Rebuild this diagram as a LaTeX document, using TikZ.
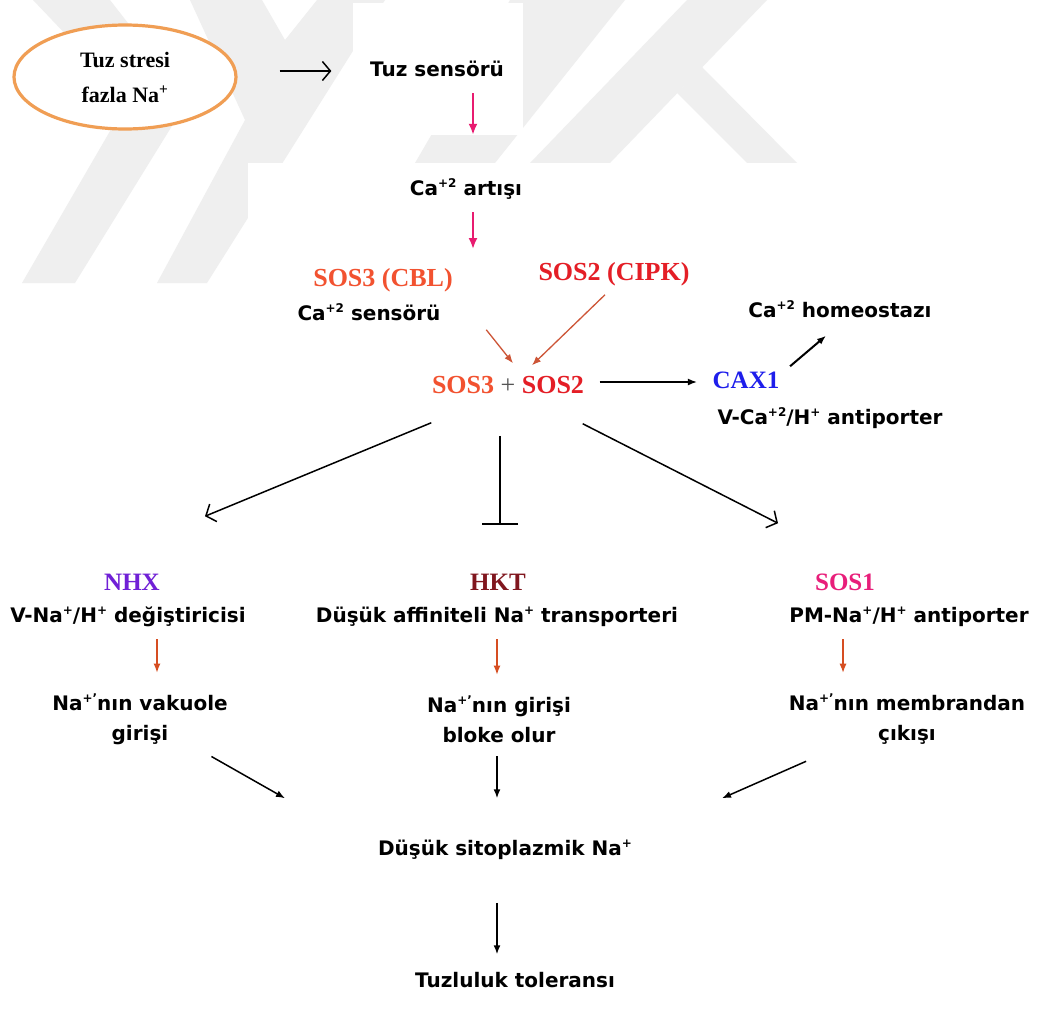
\documentclass[tikz,border=0pt]{standalone}
\usepackage{fontspec}
\setmainfont{DejaVu Sans}
\newfontfamily\serifbf{Liberation Serif}
\usetikzlibrary{arrows,arrows.meta,shapes.geometric}

\definecolor{ovalorange}{RGB}{240,158,84}
\definecolor{signalpink}{RGB}{232,28,112}
\definecolor{sosorange}{RGB}{242,82,48}
\definecolor{sosred}{RGB}{228,30,38}
\definecolor{plusgray}{RGB}{85,85,85}
\definecolor{caxblue}{RGB}{30,30,235}
\definecolor{nhxpurple}{RGB}{112,32,214}
\definecolor{hktred}{RGB}{128,22,30}
\definecolor{sosmagenta}{RGB}{232,30,122}
\definecolor{stepbrown}{RGB}{214,78,34}
\definecolor{joinred}{RGB}{205,85,55}
\definecolor{wmgray}{RGB}{239,239,239}

% small raised charge sign
\newcommand{\ionsup}[1]{\raisebox{0.42em}{\fontsize{12}{12}\selectfont #1}}

\begin{document}
\begin{tikzpicture}[x=1pt, y=-1pt, % one unit per pixel, y downwards
	> = {Latex[length=9pt,width=7pt]}, % arrow head style
	line width=1.5pt,
	every node/.style={inner sep=0pt},
	txt/.style={font=\fontsize{20}{30}\selectfont\bfseries, text height=15pt, text depth=4pt},
	txttwo/.style={font=\fontsize{20}{30}\selectfont\bfseries, align=center},
	gene/.style={font=\fontsize{26}{30}\selectfont\serifbf\bfseries, text height=18pt, text depth=5pt},
	sig/.style={-{Latex[length=11pt,width=9pt]}, signalpink, line width=2pt},
	act/.style={->, stepbrown, line width=1.2pt},
	joinarr/.style={->, joinred, line width=1.3pt},
	blk/.style={->},
	opn/.style={-{Straight Barb[length=8pt,width=19pt]}},
	blocked/.style={-{Bar[width=36pt,line width=2.6pt]}},
	cover/.style={fill=white, draw=none},
	wm/.style={fill=wmgray, draw=none}]

	\fill[white] (0,0) rectangle (1040,1017);
	\useasboundingbox (0,0) rectangle (1040,1017);

	% faint logo in the background
	\fill[wm] (33,0) -- (110,0) -- (188,100) -- (75,283) -- (22,283) -- (128,100) -- cycle;
	\fill[wm] (190,0) -- (262,0) -- (285,40) -- (317,0) -- (385,0) -- (207,283) -- (157,283) -- (245,120) -- cycle;
	\fill[wm] (510,0) -- (625,0) -- (495,163) -- (415,163) -- cycle;
	\fill[wm] (687,0) -- (767,0) -- (610,163) -- (530,163) -- cycle;
	\fill[wm] (702,67) -- (797,163) -- (747,163) -- (677,93) -- cycle;
	\fill[cover] (353,3) rectangle (523,135);
	\fill[cover] (248,163) rectangle (1040,400);
	\fill[cover] (682,285) rectangle (1040,440);

	% signal chain
	\node[ellipse, draw=ovalorange, line width=3.2pt, fill=white, minimum width=222pt, minimum height=104pt,
		align=center, font=\fontsize{22}{35}\selectfont\serifbf\bfseries] (stres) at (125,77) {Tuz stresi\\fazla Na\textsuperscript{+}};
	\node[txt] (sensor) at (437,71) {Tuz sensörü};
	\node[txt] (caart) at (466,190) {Ca\ionsup{+2} artışı};
	\coordinate (sosin) at (473,249);
	\node[gene, text=sosorange] (sos3) at (383,280) {SOS3 (CBL)};
	\node[txt] (casens) at (369,315) {Ca\ionsup{+2} sensörü};
	\node[gene, text=sosred] (sos2) at (614,274) {SOS2 (CIPK)};
	\node[gene] (plus) at (508,387) {{\color{sosorange}SOS3} {\mdseries\color{plusgray}+} {\color{sosred}SOS2}};
	\node[gene, text=caxblue, font=\fontsize{25}{30}\selectfont\serifbf\bfseries] (cax) at (746,382) {CAX1};
	\node[txt] (homeo) at (840,312) {Ca\ionsup{+2} homeostazı};
	\node[txt] (caxanti) at (830,419) {V-Ca\ionsup{+2}/H\ionsup{+} antiporter};

	% three transporters
	\node[gene, text=nhxpurple, font=\fontsize{25}{30}\selectfont\serifbf\bfseries] (nhx) at (132,584) {NHX};
	\node[gene, text=hktred, font=\fontsize{25}{30}\selectfont\serifbf\bfseries] (hkt) at (498,584) {HKT};
	\node[gene, text=sosmagenta, font=\fontsize{25}{30}\selectfont\serifbf\bfseries] (sos1) at (845,584) {SOS1};
	\node[txt] (nhxdesc) at (128,617) {V-Na\ionsup{+}/H\ionsup{+} değiştiricisi};
	\node[txt] (hktdesc) at (497,617) {Düşük affiniteli Na\ionsup{+} transporteri};
	\node[txt] (sos1desc) at (909,617) {PM-Na\ionsup{+}/H\ionsup{+} antiporter};
	\node[txttwo] (nhxout) at (140,719) {Na\ionsup{+’}nın vakuole\\girişi};
	\node[txttwo] (hktout) at (499,719) {Na\ionsup{+’}nın girişi\\bloke olur};
	\node[txttwo] (sos1out) at (907,719) {Na\ionsup{+’}nın membrandan\\çıkışı};
	\node[txt] (lowna) at (505,850) {Düşük sitoplazmik Na\ionsup{+}};
	\node[txt] (tol) at (515,982) {Tuzluluk toleransı};

	\draw[opn, shorten <=42pt, shorten >=38pt] ([yshift=6pt]stres.east) -- (sensor.west);
	\draw[sig, shorten <=12pt, shorten >=45pt] ([xshift=36pt]sensor.south) -- ([xshift=7pt]caart.north);
	\draw[sig, shorten <=12pt] ([xshift=7pt]caart.south) -- (sosin);
	\draw[joinarr] ([xshift=45pt,yshift=-4.5pt]casens.south east) -- ([xshift=5pt,yshift=11.5pt]plus.north);
	\draw[joinarr] ([xshift=-9pt,yshift=-8.5pt]sos2.south) -- ([xshift=24pt,yshift=9.5pt]plus.north);
	\draw[blk, shorten <=15pt, shorten >=15pt] ([yshift=5pt]plus.east) -- (cax.west);
	\draw[blk, line width=2pt] ([xshift=10pt,yshift=3.5pt]cax.north east) -- ([xshift=-14pt,yshift=-13.5pt]homeo.south);

	\draw[opn] ([yshift=-23.5pt]plus.south west) -- ([xshift=73pt,yshift=55.5pt]nhx.north);
	\draw[blocked] ([xshift=-8pt,yshift=-36.5pt]plus.south) -- ([xshift=2pt,yshift=46.5pt]hkt.north);
	\draw[opn] ([xshift=-2pt,yshift=-24.5pt]plus.south east) -- ([xshift=-67pt,yshift=48.5pt]sos1.north);

	\draw[act, shorten <=12pt, shorten >=20pt] ([xshift=29pt]nhxdesc.south) -- ([xshift=17pt]nhxout.north);
	\draw[act, shorten <=12pt, shorten >=20pt] (hktdesc.south) -- ([xshift=-2pt]hktout.north);
	\draw[act, shorten <=12pt, shorten >=20pt] ([xshift=-66pt]sos1desc.south) -- ([xshift=-64pt]sos1out.north);

	\draw[blk] ([xshift=-17pt,yshift=-11pt]nhxout.south east) -- ([xshift=-220pt,yshift=41.5pt]lowna.north);
	\draw[blk] ([xshift=-2pt,yshift=-13pt]hktout.south) -- ([xshift=-8pt,yshift=41.5pt]lowna.north);
	\draw[blk] ([xshift=18pt,yshift=-16pt]sos1out.south west) -- ([xshift=217pt,yshift=41.5pt]lowna.north);
	\draw[blk] ([xshift=-8pt,yshift=-42.5pt]lowna.south) -- ([xshift=-18pt,yshift=17.5pt]tol.north);

\end{tikzpicture}
\end{document}
